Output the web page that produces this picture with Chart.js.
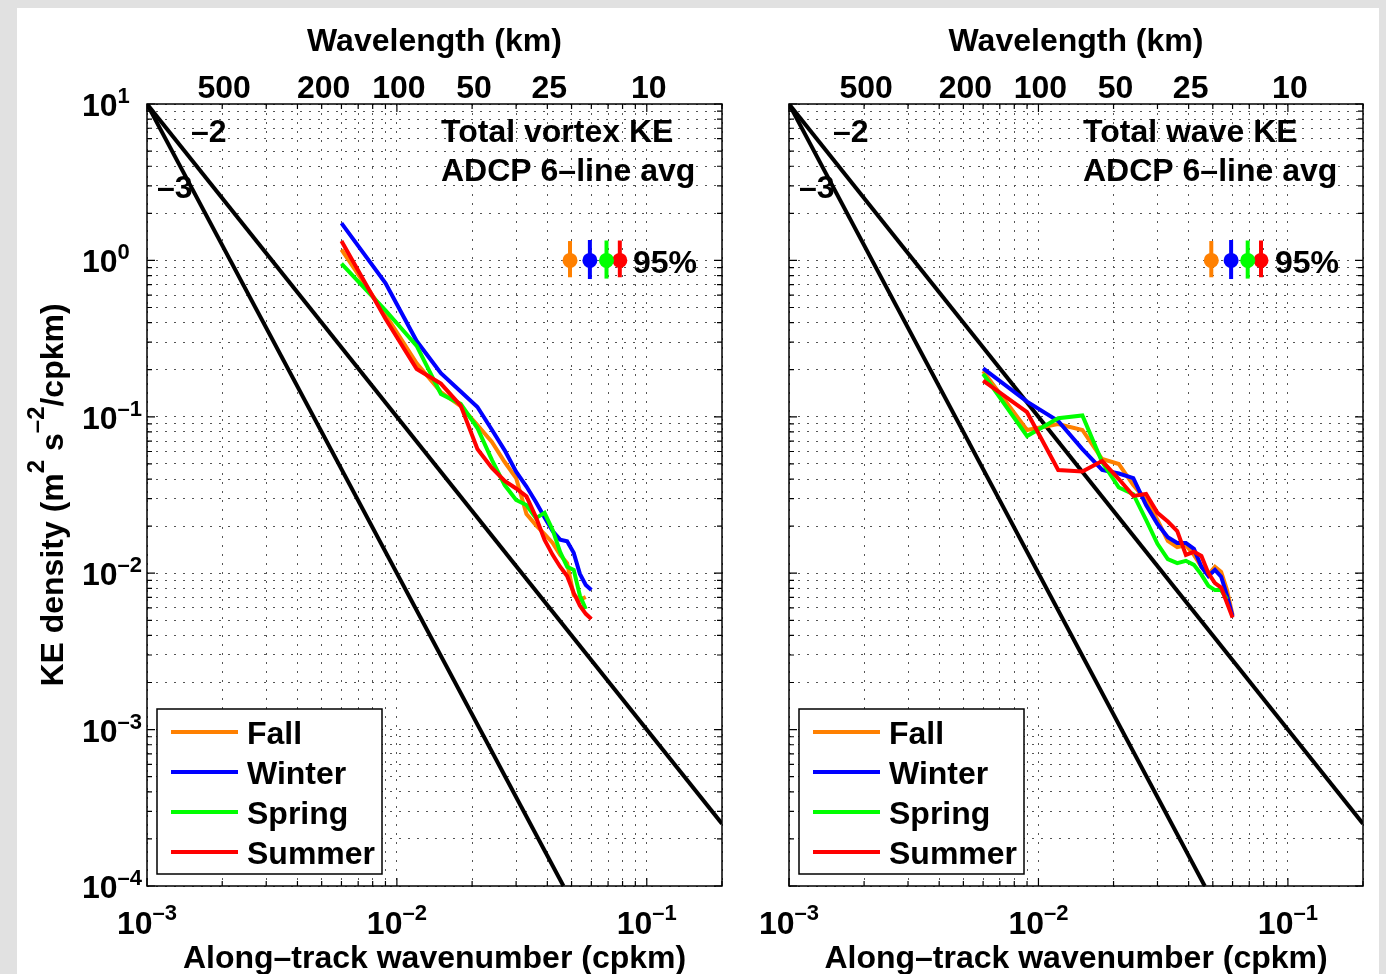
<!DOCTYPE html>
<html>
<head>
<meta charset="utf-8">
<script src="https://cdn.jsdelivr.net/npm/chart.js@4.4.1/dist/chart.umd.min.js"></script>
<style>
  html, body { margin: 0; padding: 0; width: 1386px; height: 974px; overflow: hidden; background: #e1e1e1; }
  #sheet { position: absolute; left: 17px; top: 8px; width: 1362px; height: 966px; background: #fff; }
  canvas { position: absolute; left: 0; top: 0; }
</style>
</head>
<body>
<div id="sheet"></div>
<canvas id="vortex" width="1386" height="974"></canvas>
<canvas id="wave" width="1386" height="974"></canvas>
<script>
// wavenumber grid of the spectra (cpkm)
const wavenumber = [0.006, 0.009, 0.012, 0.015, 0.018, 0.021, 0.024, 0.027, 0.030, 0.033,
                    0.036, 0.039, 0.042, 0.045, 0.048, 0.051, 0.054, 0.057, 0.060];

// left panel: total vortex KE
const vortexFall   = [1.17, 0.45, 0.22, 0.144, 0.117, 0.0887, 0.069, 0.0514, 0.0406, 0.0239, 0.0203, 0.0178, 0.0156, 0.0131, 0.0116, 0.00725, 0.00675, 0.00705, null];
const vortexWinter = [1.73, 0.717, 0.305, 0.19, 0.145, 0.1156, 0.0826, 0.061, 0.0446, 0.0358, 0.0285, 0.0227, 0.0186, 0.0164, 0.016, 0.0135, 0.0099, 0.0084, 0.0078];
const vortexSpring = [0.955, 0.48, 0.284, 0.14, 0.121, 0.0848, 0.053, 0.0366, 0.0294, 0.0273, 0.0225, 0.0243, 0.0189, 0.0137, 0.011, 0.0105, 0.0072, 0.0059, null];
const vortexSummer = [1.33, 0.424, 0.202, 0.163, 0.118, 0.0622, 0.0471, 0.0389, 0.0348, 0.031, 0.0229, 0.0163, 0.0131, 0.011, 0.0096, 0.0075, 0.0062, 0.0055, 0.0051];

// right panel: total wave KE
const waveFall   = [0.196, 0.0824, 0.09, 0.0824, 0.0537, 0.0499, 0.0366, 0.0294, 0.0219, 0.0161, 0.0147, 0.0151, 0.0131, 0.011, 0.0098, 0.011, 0.0102, 0.0078, 0.0054];
const waveWinter = [0.204, 0.125, 0.094, 0.0622, 0.0457, 0.0434, 0.0406, 0.0273, 0.0206, 0.017, 0.0156, 0.0156, 0.0143, 0.011, 0.0096, 0.0105, 0.0095, 0.0072, 0.0053];
const waveSpring = [0.188, 0.0753, 0.098, 0.102, 0.0514, 0.0353, 0.032, 0.0219, 0.0154, 0.0123, 0.0116, 0.012, 0.0113, 0.0098, 0.0083, 0.0078, 0.0078, 0.0068, null];
const waveSummer = [0.1706, 0.107, 0.0457, 0.0447, 0.0521, 0.04, 0.0312, 0.0321, 0.0243, 0.0214, 0.0186, 0.0131, 0.0137, 0.0129, 0.01, 0.00865, 0.0081, 0.00645, 0.0052];

// reference slopes [k, E]
const slopeMinus2 = [[0.001, 10], [0.2, 0.00025]];
const slopeMinus3 = [[0.001, 10], [0.0464, 0.0001]];

// 95% error bars
const errorBarK    = [0.0493, 0.0592, 0.069, 0.078];
const errorBarLow  = [0.78, 0.76, 0.765, 0.78];
const errorBarMid  = [1.0, 1.0, 1.0, 1.0];
const errorBarHigh = [1.33, 1.35, 1.34, 1.34];

const seasons = ["Fall", "Winter", "Spring", "Summer"];
const seasonColors = ["#ff8000", "#0000ff", "#00ff00", "#ff0000"];

// axes
const wavelengthTicks = [500, 200, 100, 50, 25, 10];
const xDecades = [0.001, 0.01, 0.1];
const xDecadeExp = ["\u20133", "\u20132", "\u20131"];
const yDecades = [10, 1, 0.1, 0.01, 0.001, 0.0001];
const yDecadeExp = ["1", "0", "\u20131", "\u20132", "\u20133", "\u20134"];
const xGridValues = [0.001, 0.002, 0.003, 0.004, 0.005, 0.006, 0.007, 0.008, 0.009,
                     0.01, 0.02, 0.03, 0.04, 0.05, 0.06, 0.07, 0.08, 0.09, 0.1, 0.2];
const yGridValues = [0.0001, 0.0002, 0.0003, 0.0004, 0.0005, 0.0006, 0.0007, 0.0008, 0.0009,
                     0.001, 0.002, 0.003, 0.004, 0.005, 0.006, 0.007, 0.008, 0.009,
                     0.01, 0.02, 0.03, 0.04, 0.05, 0.06, 0.07, 0.08, 0.09,
                     0.1, 0.2, 0.3, 0.4, 0.5, 0.6, 0.7, 0.8, 0.9,
                     1, 2, 3, 4, 5, 6, 7, 8, 9, 10];

const FAMILY = '"Liberation Sans", Arial, Helvetica, sans-serif';
const BASE_FONT = "bold 32px " + FAMILY;
const TICK_SUP = "bold 22px " + FAMILY;
const TITLE_SUP = "bold 24px " + FAMILY;

function drawRich(ctx, parts, x, y, align, supFont, raise) {
  const widths = parts.map((p) => {
    ctx.font = p.sup ? supFont : BASE_FONT;
    return ctx.measureText(p.t).width;
  });
  const total = widths.reduce((a, b) => a + b, 0);
  let cx = align === "center" ? x - total / 2 : align === "right" ? x - total : x;
  ctx.textAlign = "left";
  ctx.textBaseline = "alphabetic";
  parts.forEach((p, i) => {
    ctx.font = p.sup ? supFont : BASE_FONT;
    ctx.fillText(p.t, cx, p.sup ? y - raise : y);
    cx += widths[i];
  });
}

const panelDecor = {
  id: "panelDecor",
  afterDraw(chart, args, opts) {
    const { ctx, chartArea: ca, scales: { x, y } } = chart;
    ctx.save();

    // legend box
    const lx = ca.left + 10, ly = ca.bottom - 177;
    ctx.fillStyle = "#fff";
    ctx.fillRect(lx, ly, 225, 165);
    ctx.strokeStyle = "#000";
    ctx.lineWidth = 1.5;
    ctx.strokeRect(lx, ly, 225, 165);
    seasons.forEach((name, i) => {
      const rowY = ca.bottom - 154 + i * 40;
      ctx.strokeStyle = seasonColors[i];
      ctx.lineWidth = 4;
      ctx.beginPath();
      ctx.moveTo(ca.left + 24, rowY);
      ctx.lineTo(ca.left + 91, rowY);
      ctx.stroke();
      ctx.fillStyle = "#000";
      ctx.font = BASE_FONT;
      ctx.textAlign = "left";
      ctx.textBaseline = "alphabetic";
      ctx.fillText(name, ca.left + 100, rowY + 11.5);
    });

    // frame and inward tick marks
    ctx.strokeStyle = "#000";
    ctx.lineWidth = 1.5;
    ctx.strokeRect(ca.left, ca.top, ca.right - ca.left, ca.bottom - ca.top);
    ctx.lineWidth = 1.2;
    ctx.beginPath();
    xGridValues.forEach((v) => {
      const px = x.getPixelForValue(v);
      const len = xDecades.includes(v) ? 8 : 5;
      ctx.moveTo(px, ca.bottom); ctx.lineTo(px, ca.bottom - len);
      ctx.moveTo(px, ca.top); ctx.lineTo(px, ca.top + len);
    });
    yGridValues.forEach((v) => {
      const py = y.getPixelForValue(v);
      const len = yDecades.includes(v) ? 8 : 5;
      ctx.moveTo(ca.left, py); ctx.lineTo(ca.left + len, py);
      ctx.moveTo(ca.right, py); ctx.lineTo(ca.right - len, py);
    });
    ctx.stroke();

    ctx.fillStyle = "#000";
    // bottom decade labels
    xDecades.forEach((v, i) => {
      drawRich(ctx, [{ t: "10" }, { t: xDecadeExp[i], sup: true }],
        x.getPixelForValue(v), ca.bottom + 48, "center", TICK_SUP, 14);
    });
    // left decade labels
    if (opts.yLabels) {
      yDecades.forEach((v, i) => {
        drawRich(ctx, [{ t: "10" }, { t: yDecadeExp[i], sup: true }],
          ca.left - 65, y.getPixelForValue(v) + 12, "left", TICK_SUP, 13);
      });
    }
    // top wavelength labels
    ctx.font = BASE_FONT;
    ctx.textAlign = "center";
    ctx.textBaseline = "alphabetic";
    wavelengthTicks.forEach((w) => {
      ctx.fillText(String(w), x.getPixelForValue(1 / w) + 2, ca.top - 6);
    });
    const midX = (ca.left + ca.right) / 2;
    ctx.fillText("Wavelength (km)", midX, ca.top - 53);
    ctx.fillText("Along\u2013track wavenumber (cpkm)", midX, ca.bottom + 82);

    // y title
    if (opts.yTitle) {
      ctx.save();
      ctx.translate(63, (ca.top + ca.bottom) / 2);
      ctx.rotate(-Math.PI / 2);
      drawRich(ctx, [{ t: "KE density (m" }, { t: "2", sup: true }, { t: " s" },
        { t: "\u20132", sup: true }, { t: "/cpkm)" }], 0, 0, "center", TITLE_SUP, 19);
      ctx.restore();
    }

    // in-axes annotations
    ctx.font = BASE_FONT;
    ctx.textAlign = "left";
    ctx.fillText(opts.title, ca.left + 294, ca.top + 38);
    ctx.fillText("ADCP 6\u2013line avg", ca.left + 294, ca.top + 77);
    ctx.fillText("\u20132", ca.left + 44, ca.top + 38);
    ctx.fillText("\u20133", ca.left + 10, ca.top + 94);
    ctx.fillText("95%", ca.left + 486, ca.top + 169);

    ctx.restore();
  }
};

function panelDatasets(series) {
  const ds = [];
  errorBarK.forEach((k, i) => {
    ds.push({
      data: [{ x: k, y: errorBarLow[i] }, { x: k, y: errorBarMid[i] }, { x: k, y: errorBarHigh[i] }],
      borderColor: seasonColors[i],
      backgroundColor: seasonColors[i],
      borderWidth: 4,
      pointRadius: [0, 7.5, 0],
      pointBorderWidth: 0,
      order: 1
    });
  });
  series.forEach((vals, i) => {
    ds.push({
      label: seasons[i],
      data: wavenumber.map((k, j) => ({ x: k, y: vals[j] })),
      borderColor: seasonColors[i],
      borderWidth: 4,
      pointRadius: 0,
      tension: 0,
      order: 5 - i
    });
  });
  [slopeMinus2, slopeMinus3].forEach((pts) => {
    ds.push({
      data: pts.map(([k, e]) => ({ x: k, y: e })),
      borderColor: "#000",
      borderWidth: 4,
      pointRadius: 0,
      order: 6
    });
  });
  return ds;
}

function logAxis(min, max, values) {
  return {
    type: "logarithmic",
    min: min,
    max: max,
    afterBuildTicks: (scale) => { scale.ticks = values.map((v) => ({ value: v })); },
    ticks: { display: false },
    grid: { color: "#555", lineWidth: 1, drawTicks: false },
    border: { display: false, dash: [2, 7] }
  };
}

function makePanel(id, series, padding, decor) {
  return new Chart(document.getElementById(id), {
    type: "line",
    data: { datasets: panelDatasets(series) },
    options: {
      responsive: false,
      animation: false,
      events: [],
      layout: { padding: padding },
      plugins: {
        legend: { display: false },
        tooltip: { enabled: false },
        panelDecor: decor
      },
      scales: {
        x: logAxis(0.001, 0.2, xGridValues),
        y: logAxis(0.0001, 10, yGridValues)
      }
    },
    plugins: [panelDecor]
  });
}

makePanel("vortex", [vortexFall, vortexWinter, vortexSpring, vortexSummer],
  { left: 147, right: 664, top: 104, bottom: 88 },
  { title: "Total vortex KE", yLabels: true, yTitle: true });

makePanel("wave", [waveFall, waveWinter, waveSpring, waveSummer],
  { left: 789, right: 23, top: 104, bottom: 88 },
  { title: "Total wave KE", yLabels: false, yTitle: false });
</script>
</body>
</html>
